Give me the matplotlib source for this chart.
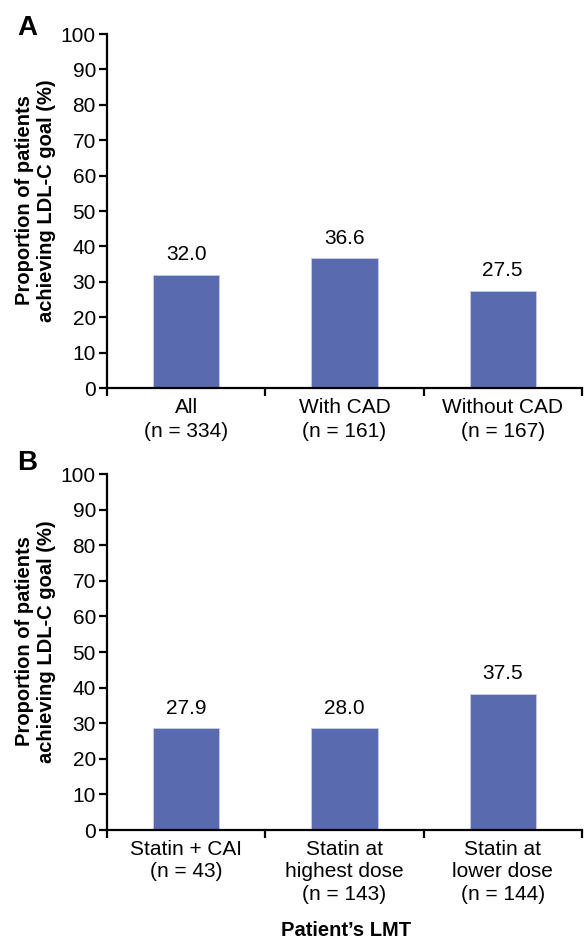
import matplotlib
matplotlib.use("Agg")
import matplotlib.pyplot as plt
import numpy as np

plt.rcParams['font.family'] = ['Liberation Sans', 'DejaVu Sans']

# panel A data
cats_a = ["All\n(n = 334)", "With CAD\n(n = 161)", "Without CAD\n(n = 167)"]
vals_a = [32.0, 36.6, 27.5]

# panel B data
cats_b = ["Statin + CAI\n(n = 43)", "Statin at\nhighest dose\n(n = 143)", "Statin at\nlower dose\n(n = 144)"]
vals_b = [27.9, 28.0, 37.5]
heights_b = [28.6, 28.6, 38.2]  # bars as drawn in the figure

yticks = list(range(0, 101, 10))
bar_color = "#5a6aae"
ylabel = "Proportion of patients\nachieving LDL-C goal (%)"

fig = plt.figure(figsize=(5.86, 9.4), dpi=100)
ax_a = fig.add_axes([0.1826, 0.5872, 0.8104, 0.3766])
ax_b = fig.add_axes([0.1826, 0.1170, 0.8104, 0.3787])


def draw_panel(ax, cats, vals, heights, letter, letter_y, spacing):
    x = np.arange(len(cats))
    ax.bar(x, heights, width=0.42, color=bar_color, edgecolor="#c8cde6", linewidth=0.6, zorder=2)
    for xi, h, v in zip(x, heights, vals):
        ax.text(xi, h + 3.0, f"{v:.1f}", ha="center", va="bottom", fontsize=15)
    ax.set_xlim(-0.5, len(cats) - 0.5)
    ax.set_ylim(0, 100)
    ax.set_yticks(yticks)
    ax.tick_params(axis="y", labelsize=15, width=1.6, length=6, pad=2)
    ax.set_xticks(x)
    ax.set_xticklabels(cats, fontsize=15, linespacing=spacing)
    ax.tick_params(axis="x", length=0, pad=7)
    ax.set_xticks(np.arange(len(cats) + 1) - 0.5, minor=True)
    ax.tick_params(axis="x", which="minor", length=6, width=1.6, direction="out")
    for s in ["top", "right"]:
        ax.spines[s].set_visible(False)
    for s in ["left", "bottom"]:
        ax.spines[s].set_linewidth(1.6)
    ax.set_ylabel(ylabel, fontsize=14.5, fontweight="bold", linespacing=1.2)
    ax.yaxis.set_label_coords(-0.108, 0.53)
    fig.text(0.046, letter_y, letter, fontsize=20, fontweight="bold",
             ha="center", va="center")


draw_panel(ax_a, cats_a, vals_a, vals_a, "A", 0.970, 1.35)
draw_panel(ax_b, cats_b, vals_b, heights_b, "B", 0.507, 1.25)

fig.text(0.59, 0.010, "Patient\u2019s LMT", ha="center", va="center",
         fontsize=14.5, fontweight="bold")

fig.savefig("out.png", dpi=100)
